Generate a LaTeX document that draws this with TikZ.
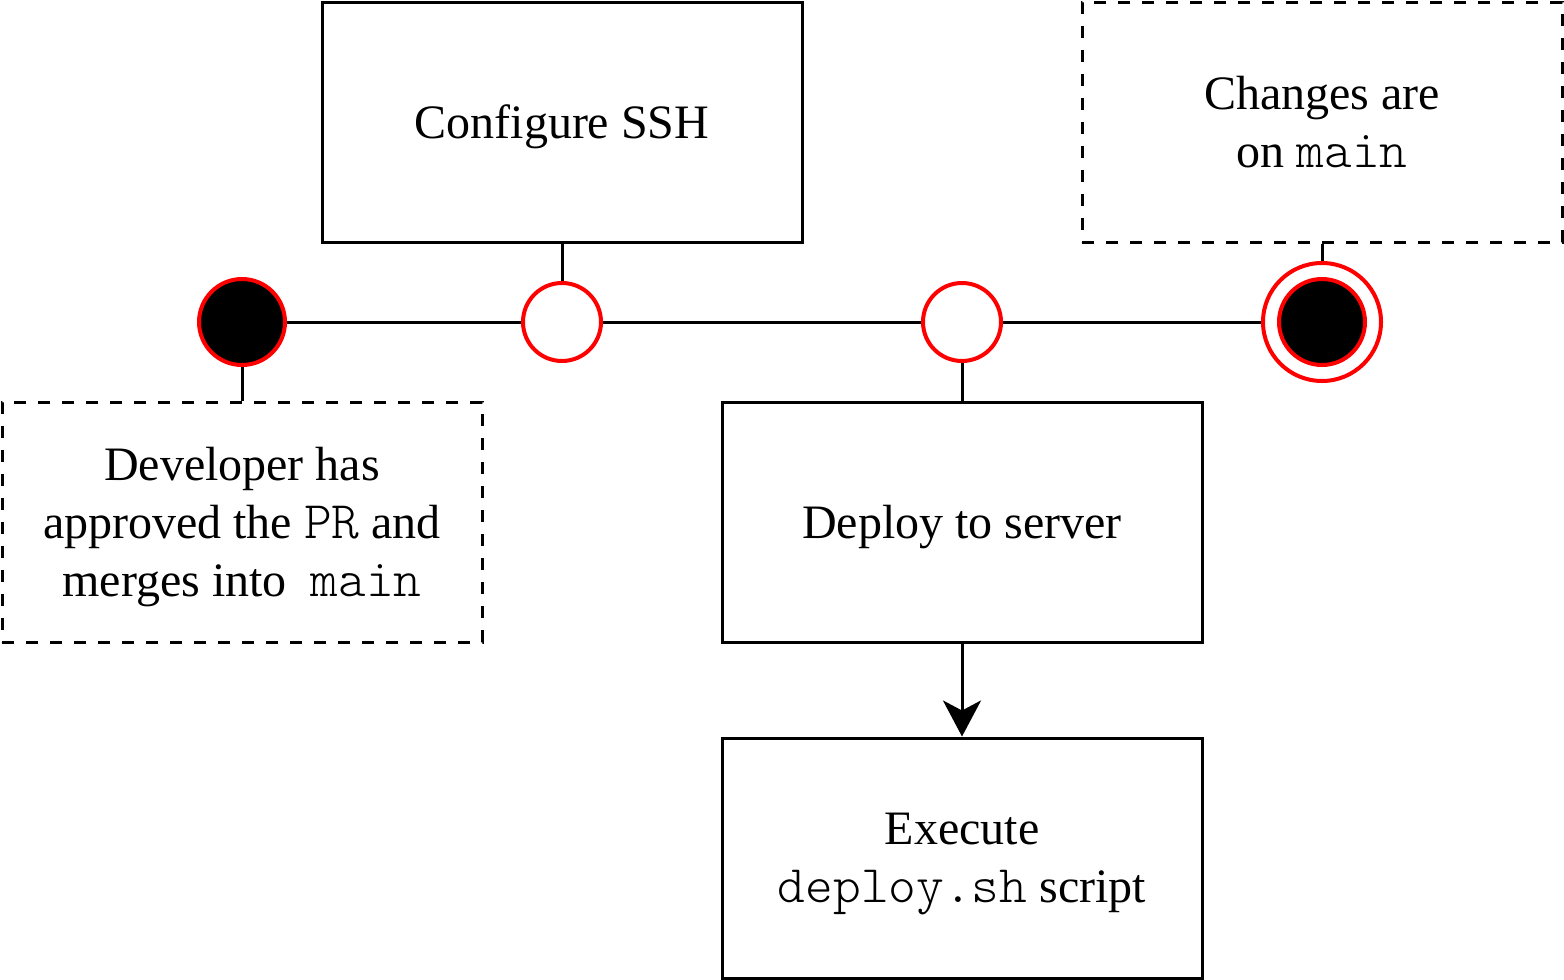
\documentclass[tikz,border=0pt]{standalone}
\usepackage{fontspec}
\setmainfont{Liberation Serif}
\setmonofont[Scale=1.1]{Latin Modern Mono Light}
\usetikzlibrary{arrows.meta}

\begin{document}
\begin{tikzpicture}
    [ x=0.5pt, y=-0.5pt
    , line width=1.5pt
    , every node/.style={font=\fontsize{24}{29}\selectfont, align=center, text depth=0pt}
    , activity/.style={draw, minimum width=240pt, minimum height=120pt}
    , annot/.style={activity, dash pattern=on 6pt off 6pt}
    , evt/.style={circle, draw=red, line width=2pt, fill=white, minimum size=39pt, inner sep=0pt}
    , startevt/.style={evt, fill=black, minimum size=43pt}
    ]
\useasboundingbox (0,0) rectangle (1564,980);
\node[activity] (ssh) at (562,122) {Configure SSH};
\node[annot] (onmain) at (1322,122) {Changes are\\on \texttt{main}};
\node[annot] (approved) at (242,522)
    {Developer has\\approved the \texttt{PR} and\\merges into\ \ \texttt{main}};
\node[activity] (deploy) at (962,522) {Deploy to server};
\node[activity] (exec) at (962,858) {Execute\\\texttt{deploy.sh} script};
\node[startevt] (begin) at (242,322) {};
\node[evt] (sshevt) at (562,322) {};
\node[evt] (deployevt) at (962,322) {};
\node[evt, minimum size=59pt] (finish) at (1322,322) {};
\node[startevt] (finishin) at (1322,322) {};
\draw (begin) -- (sshevt) -- (deployevt) -- (finish);
\draw (ssh) -- (sshevt);
\draw (onmain) -- (finish);
\draw (begin) -- (approved);
\draw (deployevt) -- (deploy);
\draw[-{Stealth[length=18pt, width=19pt, inset=5pt]}] (deploy) -- (exec);
\end{tikzpicture}
\end{document}
